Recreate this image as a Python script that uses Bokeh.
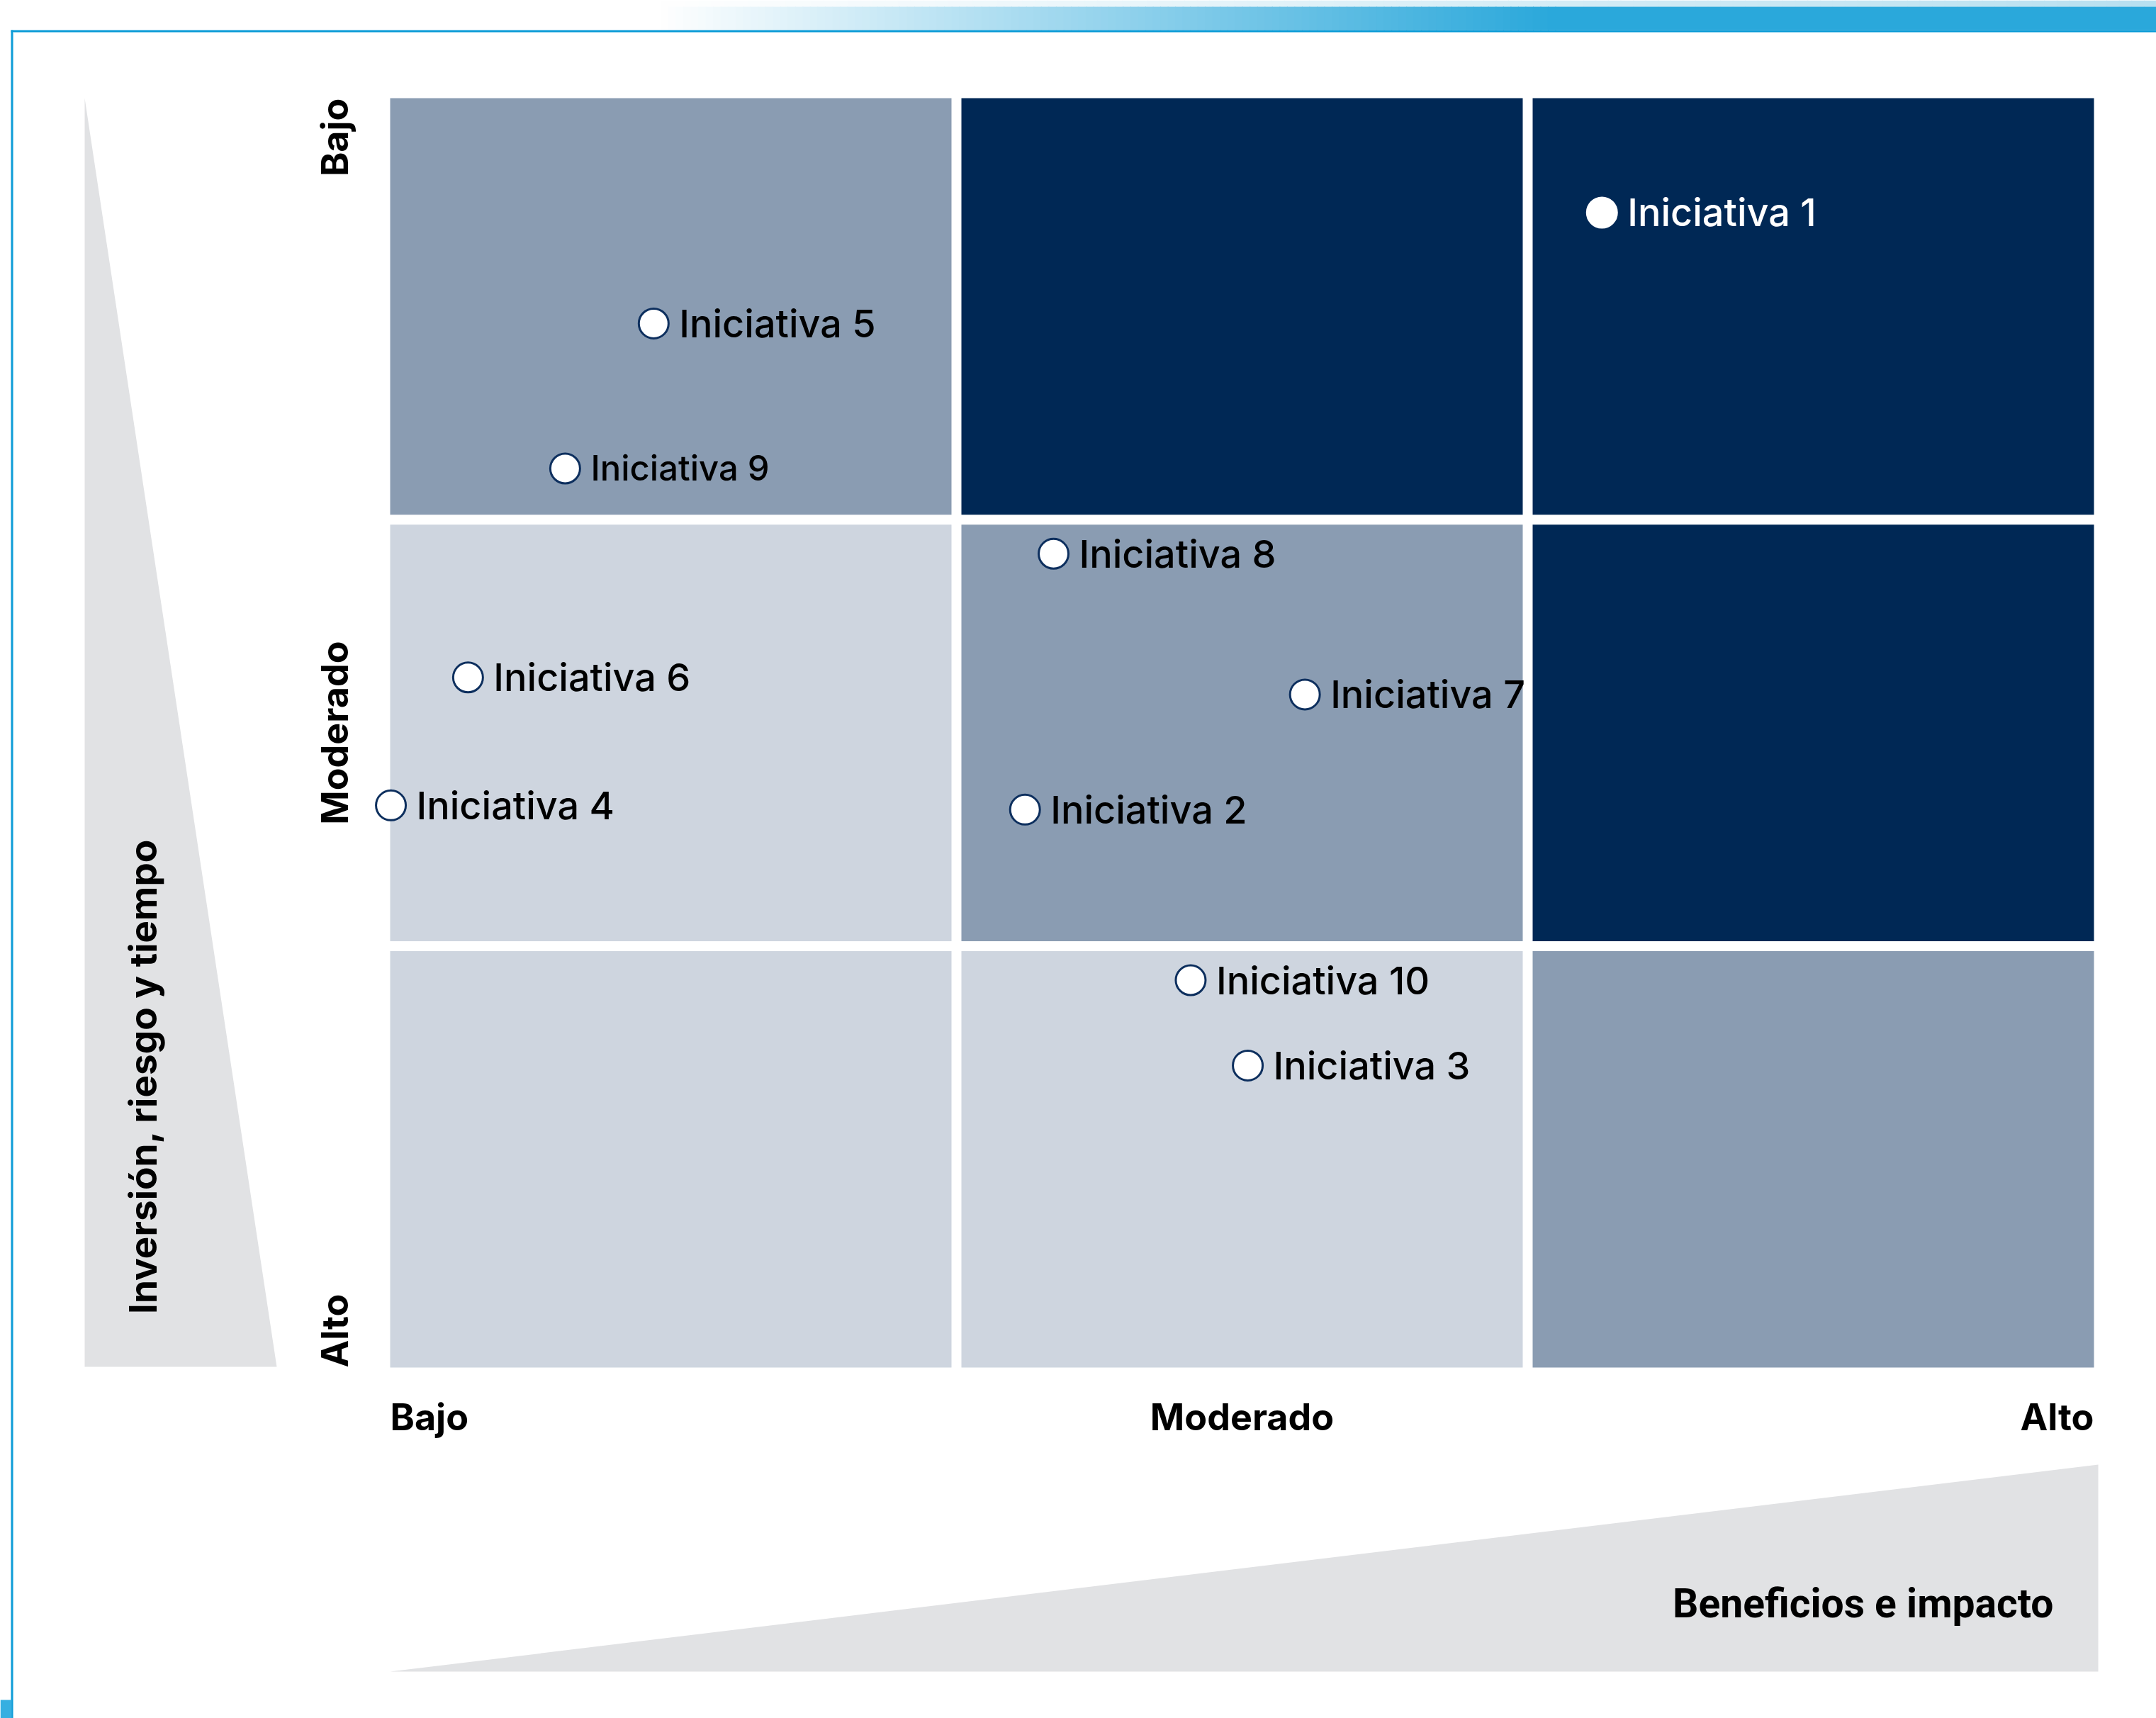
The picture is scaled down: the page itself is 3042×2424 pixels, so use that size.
import numpy as np
from bokeh.plotting import figure
from bokeh.models import Range1d, ColumnDataSource
from bokeh.core.properties import value
from bokeh.embed import file_html
from bokeh.resources import INLINE

# ---------------- data ----------------
initiatives = ["Iniciativa 1", "Iniciativa 2", "Iniciativa 3", "Iniciativa 4", "Iniciativa 5",
               "Iniciativa 6", "Iniciativa 7", "Iniciativa 8", "Iniciativa 9", "Iniciativa 10"]
# benefit: 0 = Bajo (left) .. 3 = Alto (right)
benefit = [2.13, 1.12, 1.51, 0.01, 0.47, 0.145, 1.61, 1.17, 0.315, 1.41]
# investment / risk / time: 0 = Bajo (top) .. 3 = Alto (bottom)
investment = [0.28, 1.68, 2.28, 1.67, 0.54, 1.37, 1.41, 1.08, 0.88, 2.08]

levels = ["Bajo", "Moderado", "Alto"]
# shading of the 3x3 matrix: rows = investment level, cols = benefit level
shading = [["mid", "dark", "dark"],
           ["light", "mid", "dark"],
           ["light", "light", "mid"]]
x_title = "Beneficios e impacto"
y_title = "Inversión, riesgo y tiempo"

# ---------------- styling ----------------
SHADE = {"light": "#ced5df", "mid": "#8a9cb2", "dark": "#002855"}
TRI = "#e1e2e4"
BLUE = "#2aa8db"
LINE_BLUE = "#0b9bd7"
NAVY = "#0d2f5e"
FONT = value("Inter")
FONT_MED = value("Inter Medium, Inter")
LABEL_SIZE = {"Iniciativa 9": "49px"}   # this label is set a little smaller in the original

W, H = 3042, 2424
PX0, PXU = 543.0, 806.0      # page px of benefit 0, px per unit
PY0, PYU = 131.0, 601.7      # page px of investment 0, px per unit


def dx(X):
    return (X - PX0) / PXU


def dy(Y):
    return (Y - PY0) / PYU


p = figure(width=W, height=H, x_range=Range1d(dx(0), dx(W)),
           y_range=Range1d(dy(H), dy(0)), x_axis_type=None, y_axis_type=None,
           min_border=0, outline_line_color=None, toolbar_location=None,
           output_backend="svg", background_fill_color="white", border_fill_color="white")
p.grid.visible = False


def gradient(x0, x1, y0, y1, c_start, c_end, n=120):
    xs = np.linspace(x0, x1, n + 1)
    a, b = np.array(c_start), np.array(c_end)
    cols = []
    for k in range(n):
        t = (k + 0.5) / n
        c = (a + (b - a) * t).astype(int)
        cols.append("#%02x%02x%02x" % tuple(c))
    p.quad(left=[dx(v) for v in xs[:-1]], right=[dx(v + 1) for v in xs[1:]],
           top=dy(y0), bottom=dy(y1), fill_color=cols, line_color=None)


# ---- top gradient bar ----
gradient(932, 3042, 0, 9, (255, 255, 255), (184, 224, 240))
gradient(932, 2194, 9, 42, (255, 255, 255), (42, 168, 219))
p.quad(left=dx(2194), right=dx(3042), top=dy(9), bottom=dy(42), fill_color=BLUE, line_color=None)

# frame lines
p.quad(left=dx(15), right=dx(3042), top=dy(42), bottom=dy(45), fill_color=LINE_BLUE, line_color=None)
p.quad(left=dx(15), right=dx(18), top=dy(42), bottom=dy(2424), fill_color=LINE_BLUE, line_color=None)
p.quad(left=dx(18), right=dx(19), top=dy(45), bottom=dy(2424), fill_color="#bfe6f6", line_color=None)
p.quad(left=dx(0), right=dx(16), top=dy(2398), bottom=dy(2424), fill_color="#36afe1", line_color=None)

# ---- wedges ----
p.patch([dx(119), dx(119), dx(390)], [dy(138), dy(1928), dy(1928)], fill_color=TRI, line_color=None)
p.patch([dx(550), dx(2960), dx(2960)], [dy(2358), dy(2358), dy(2066)], fill_color=TRI, line_color=None)

# ---- matrix cells ----
gx, gy = 7 / PXU, 7 / PYU
L, R, T, B, C = [], [], [], [], []
for r in range(3):
    for c in range(3):
        L.append(c + gx); R.append(c + 1 - gx)
        T.append(r + gy); B.append(r + 1 - gy)
        C.append(SHADE[shading[r][c]])
p.quad(left=L, right=R, top=T, bottom=B, fill_color=C, line_color=None)

# ---- level labels ----
p.text(x=[gx, 1.5, 3 - gx], y=[dy(1999)] * 3, text=levels, text_align=["left", "center", "right"],
       text_baseline="middle", text_font=FONT, text_font_style="bold",
       text_font_size="52px", text_color="black")
p.text(x=[dx(472)] * 3, y=[gy, 1.5, 3 - gy], text=levels, angle=np.pi / 2,
       text_align=["right", "center", "left"], text_baseline="middle", text_font=FONT,
       text_font_style="bold", text_font_size="52px", text_color="black")

# ---- titles ----
p.text(x=[dx(201)], y=[dy(1518)], text=[y_title], angle=np.pi / 2, text_align="center",
       text_baseline="middle", text_font=FONT, text_font_style="bold",
       text_font_size="53px", text_color="black")
p.text(x=[dx(2897)], y=[dy(2262)], text=[x_title], text_align="right", text_baseline="middle",
       text_font=value("Roboto"), text_font_style="bold", text_font_size="57px", text_color="black")

# ---- initiatives ----
dark = [shading[min(int(v), 2)][min(int(u), 2)] == "dark" for u, v in zip(benefit, investment)]
src = ColumnDataSource(dict(
    x=benefit, y=investment, name=initiatives,
    fill=["white"] * len(benefit),
    line=["white" if d else NAVY for d in dark],
    tcol=["white" if d else "black" for d in dark],
    fsize=[LABEL_SIZE.get(n, "54px") for n in initiatives],
))
p.scatter("x", "y", source=src, size=42, fill_color="fill", line_color="line", line_width=3)
p.text("x", "y", text="name", source=src, x_offset=36, y_offset=0, text_align="left",
       text_baseline="middle", text_font=FONT_MED, text_font_size="fsize", text_color="tcol")

open("out.html", "w").write(file_html(p, INLINE))
